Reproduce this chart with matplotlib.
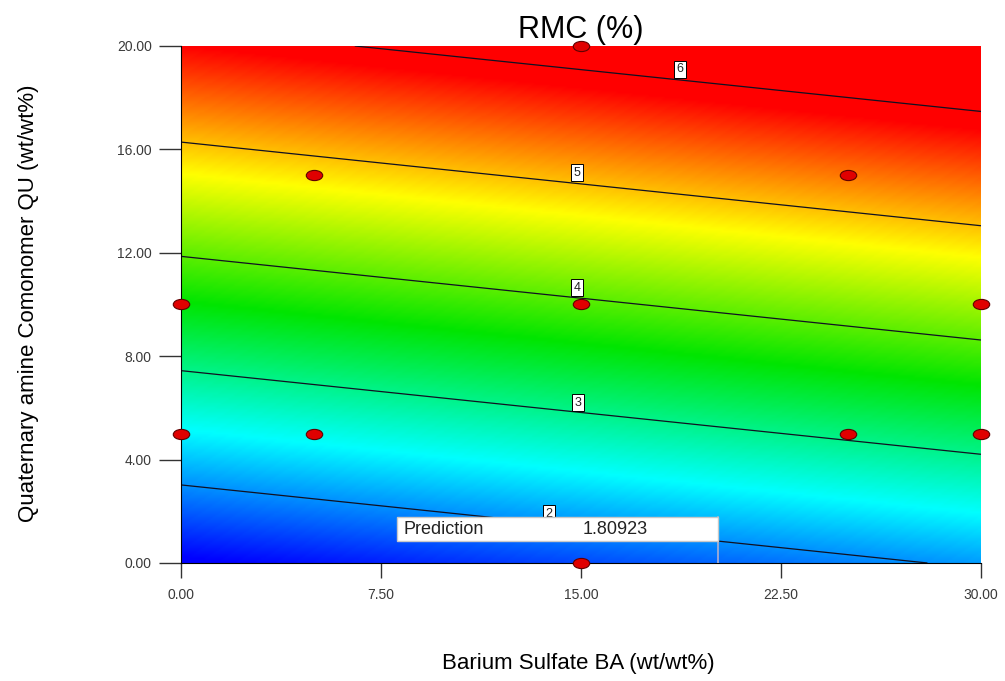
# RMC (%) response surface: Barium Sulfate BA vs Quaternary amine Comonomer QU
import numpy as np
import matplotlib.pyplot as plt
from matplotlib.colors import LinearSegmentedColormap
from matplotlib.path import Path
from matplotlib.patches import Rectangle
from matplotlib.transforms import Affine2D

plt.rcParams['font.family'] = ['Liberation Sans', 'DejaVu Sans']

# fitted linear model
intercept = 1.317
coef_ba = 0.0244
coef_qu = 0.2262

levels = [2, 3, 4, 5, 6]
label_ba = [13.8, 14.9, 14.85, 14.85, 18.7]
label_qu = [1.9, 6.2, 10.65, 15.1, 19.1]

# design points
ba_pts = [15, 5, 25, 0, 15, 30, 0, 5, 25, 30, 15]
qu_pts = [20, 15, 15, 10, 10, 10, 5, 5, 5, 5, 0]

xticks = [0, 7.5, 15, 22.5, 30]
yticks = [0, 4, 8, 12, 16, 20]

pred_ba, pred_qu = 20.15, 0.0
pred_text = "1.80923"

ba = np.linspace(0, 30, 301)
qu = np.linspace(0, 20, 301)
BA, QU = np.meshgrid(ba, qu)
Z = intercept + coef_ba * BA + coef_qu * QU

cmap = LinearSegmentedColormap.from_list(
    "de", [(0, 0, 1), (0, 1, 1), (0, 0.9, 0), (1, 1, 0), (1, 0, 0)])

fig = plt.figure(figsize=(10.05, 6.81), dpi=100)
ax = fig.add_axes([0.1801, 0.1733, 0.796, 0.7592])

ax.imshow(Z, origin="lower", extent=[0, 30, 0, 20], aspect="auto",
          cmap=cmap, vmin=1.35, vmax=5.85, interpolation="bilinear")
ax.contour(BA, QU, Z, levels=levels, colors="#111122", linewidths=0.9)
for lv, lx, ly in zip(levels, label_ba, label_qu):
    ax.text(lx, ly, str(lv), fontsize=9, ha="center", va="center", zorder=4,
            color="#222222",
            bbox=dict(facecolor="white", edgecolor="black", lw=0.7, pad=1.8))

# design points as flat ellipses
ell = Path.unit_circle().transformed(Affine2D().scale(1.0, 0.62))
ax.scatter(ba_pts, qu_pts, marker=ell, s=140, color="#e00000",
           edgecolors="#600000", linewidths=0.8, zorder=5, clip_on=False)

# prediction flag
ax.plot([pred_ba, pred_ba], [pred_qu, 1.78], color="#b0b0d0", lw=1.2, zorder=6)
ax.add_patch(Rectangle((8.1, 0.85), pred_ba - 8.1, 0.93, facecolor="white",
                       edgecolor="#c8c8c8", lw=1, zorder=7))
ax.text(8.35, 1.3, "Prediction", fontsize=13, va="center", zorder=8,
        color="#222222")
ax.text(17.5, 1.3, pred_text, fontsize=13, va="center", ha="right",
        zorder=8, color="#222222")

ax.set_xlim(0, 30)
ax.set_ylim(0, 20)
ax.set_xticks(xticks)
ax.set_yticks(yticks)
ax.set_xticklabels(["%.2f" % v for v in xticks])
ax.set_yticklabels(["%.2f" % v for v in yticks])
ax.tick_params(axis="y", length=16, width=1, labelsize=10, pad=5,
               color="#333333", labelcolor="#3a3a3a")
ax.tick_params(axis="x", length=11, width=1, labelsize=10, pad=7,
               color="#333333", labelcolor="#3a3a3a")
for s in ["top", "right"]:
    ax.spines[s].set_visible(False)
for s in ["left", "bottom"]:
    ax.spines[s].set_color("black")

ax.set_title("RMC (%)", fontsize=22, pad=6)
fig.text(0.575, 0.026, "Barium Sulfate BA (wt/wt%)", fontsize=16,
         ha="center", va="center")
fig.text(0.028, 0.555, "Quaternary amine Comonomer QU (wt/wt%)", fontsize=16,
         ha="center", va="center", rotation=90)

fig.savefig("out.png", dpi=100)
